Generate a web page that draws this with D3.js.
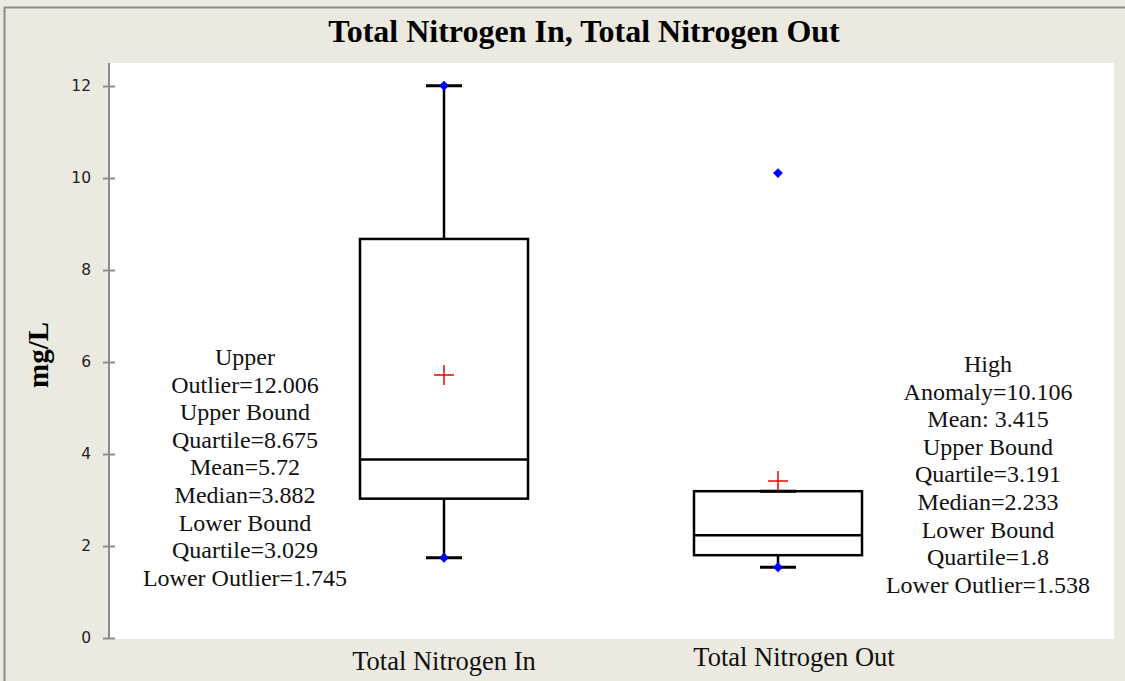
<!DOCTYPE html>
<html lang="en">
<head>
    <meta charset="UTF-8">
    <title>Total Nitrogen In, Total Nitrogen Out</title>
    <script src="https://d3js.org/d3.v7.min.js"></script>
    <style>
        body { margin: 0; background: #fff; }
        svg { display: block; }
        .serif { font-family: "Liberation Serif", "Times New Roman", serif; }
    </style>
</head>
<body>
    <svg id="chart"></svg>
    <script>
        const width = 1125;
        const height = 681;

        // data
        const categories = ["Total Nitrogen In", "Total Nitrogen Out"];
        const q1 = [3.029, 1.8];
        const median = [3.882, 2.233];
        const q3 = [8.675, 3.191];
        const whiskerLow = [1.745, 1.538];
        const whiskerHigh = [12.006, 3.191];
        const means = [5.72, 3.415];
        const outliers = [[12.006, 1.745], [10.106, 1.538]];
        const yTicks = [0, 2, 4, 6, 8, 10, 12];
        const notes = [
            ["Upper", "Outlier=12.006", "Upper Bound", "Quartile=8.675", "Mean=5.72",
             "Median=3.882", "Lower Bound", "Quartile=3.029", "Lower Outlier=1.745"],
            ["High", "Anomaly=10.106", "Mean: 3.415", "Upper Bound", "Quartile=3.191",
             "Median=2.233", "Lower Bound", "Quartile=1.8", "Lower Outlier=1.538"]
        ];

        const plot = { left: 110, right: 1114, top: 63, bottom: 639 };

        const svg = d3.select("#chart")
            .attr("width", width)
            .attr("height", height);

        // background + frame
        svg.append("rect").attr("width", width).attr("height", height).attr("fill", "#ECEAE0");
        svg.append("line").attr("x1", 4).attr("x2", width).attr("y1", 7.5).attr("y2", 7.5)
            .attr("stroke", "#8a8a8a").attr("stroke-width", 2);
        svg.append("line").attr("x1", 4.5).attr("x2", 4.5).attr("y1", 7).attr("y2", height)
            .attr("stroke", "#8a8a8a").attr("stroke-width", 2);

        svg.append("rect")
            .attr("x", plot.left).attr("y", plot.top)
            .attr("width", plot.right - plot.left)
            .attr("height", plot.bottom - plot.top)
            .attr("fill", "#fff");

        // scales
        const y = d3.scaleLinear().domain([0, 12]).range([638, 86]);
        const x = d3.scaleOrdinal().domain(categories).range([444, 778]);
        const boxHalf = 84;
        const capHalf = 18;

        // y axis
        const yAxis = d3.axisLeft(y).tickValues(yTicks).tickSize(6).tickPadding(12);
        const gy = svg.append("g")
            .attr("transform", `translate(109,0)`)
            .call(yAxis);
        gy.select(".domain").attr("d", `M0,${plot.top}V${y(0)}`)
            .attr("stroke", "#8c8c8c").attr("stroke-width", 2);
        gy.selectAll(".tick line").attr("x1", -6).attr("x2", 6)
            .attr("stroke", "#8c8c8c").attr("stroke-width", 2);
        gy.selectAll(".tick text")
            .attr("font-family", "DejaVu Sans, Verdana, sans-serif")
            .attr("font-size", 15.5).attr("fill", "#222");

        // title
        svg.append("text")
            .attr("class", "serif")
            .attr("x", 584).attr("y", 42)
            .attr("text-anchor", "middle")
            .attr("font-size", 32).attr("font-weight", "bold")
            .text("Total Nitrogen In, Total Nitrogen Out");

        // y label
        svg.append("text")
            .attr("class", "serif")
            .attr("transform", "translate(48,355) rotate(-90)")
            .attr("text-anchor", "middle")
            .attr("font-size", 29).attr("font-weight", "bold")
            .text("mg/L");

        // boxes
        const boxes = svg.append("g").selectAll("g")
            .data(categories)
            .join("g");

        boxes.each(function (c, i) {
            const g = d3.select(this);
            const cx = x(c);
            // whiskers
            g.append("line").attr("x1", cx).attr("x2", cx)
                .attr("y1", y(whiskerHigh[i])).attr("y2", y(q3[i]))
                .attr("stroke", "#000").attr("stroke-width", 2.5);
            g.append("line").attr("x1", cx).attr("x2", cx)
                .attr("y1", y(q1[i])).attr("y2", y(whiskerLow[i]))
                .attr("stroke", "#000").attr("stroke-width", 2.5);
            [whiskerHigh[i], whiskerLow[i]].forEach(v => {
                g.append("line").attr("x1", cx - capHalf).attr("x2", cx + capHalf)
                    .attr("y1", y(v)).attr("y2", y(v))
                    .attr("stroke", "#000").attr("stroke-width", 3);
            });
            // box
            g.append("rect")
                .attr("x", cx - boxHalf).attr("y", y(q3[i]))
                .attr("width", boxHalf * 2).attr("height", y(q1[i]) - y(q3[i]))
                .attr("fill", "none").attr("stroke", "#000").attr("stroke-width", 2.5);
            g.append("line").attr("x1", cx - boxHalf).attr("x2", cx + boxHalf)
                .attr("y1", y(median[i])).attr("y2", y(median[i]))
                .attr("stroke", "#000").attr("stroke-width", 2.5);
            // mean
            const my = y(means[i]);
            g.append("path")
                .attr("d", `M${cx - 10},${my}H${cx + 10}M${cx},${my - 10}V${my + 10}`)
                .attr("stroke", "#ff0000").attr("stroke-width", 1.5).attr("fill", "none");
            // outlier points
            g.selectAll(".pt").data(outliers[i]).join("path")
                .attr("class", "pt")
                .attr("transform", v => `translate(${cx},${y(v)}) rotate(45)`)
                .attr("d", "M-3.5,-3.5H3.5V3.5H-3.5Z")
                .attr("fill", "#0000ff");
        });

        // annotations
        const noteX = [245, 988];
        const noteY = [365, 372];
        notes.forEach((lines, i) => {
            const t = svg.append("text")
                .attr("class", "serif")
                .attr("text-anchor", "middle")
                .attr("font-size", 24)
                .attr("fill", "#111");
            lines.forEach((s, k) => {
                t.append("tspan").attr("x", noteX[i]).attr("y", noteY[i] + k * 27.6).text(s);
            });
        });

        // category labels
        const labelX = [444, 794];
        const labelY = [670, 666];
        categories.forEach((c, i) => {
            svg.append("text")
                .attr("class", "serif")
                .attr("x", labelX[i]).attr("y", labelY[i])
                .attr("text-anchor", "middle")
                .attr("font-size", 26.5).attr("fill", "#111")
                .text(c);
        });
    </script>
</body>
</html>
